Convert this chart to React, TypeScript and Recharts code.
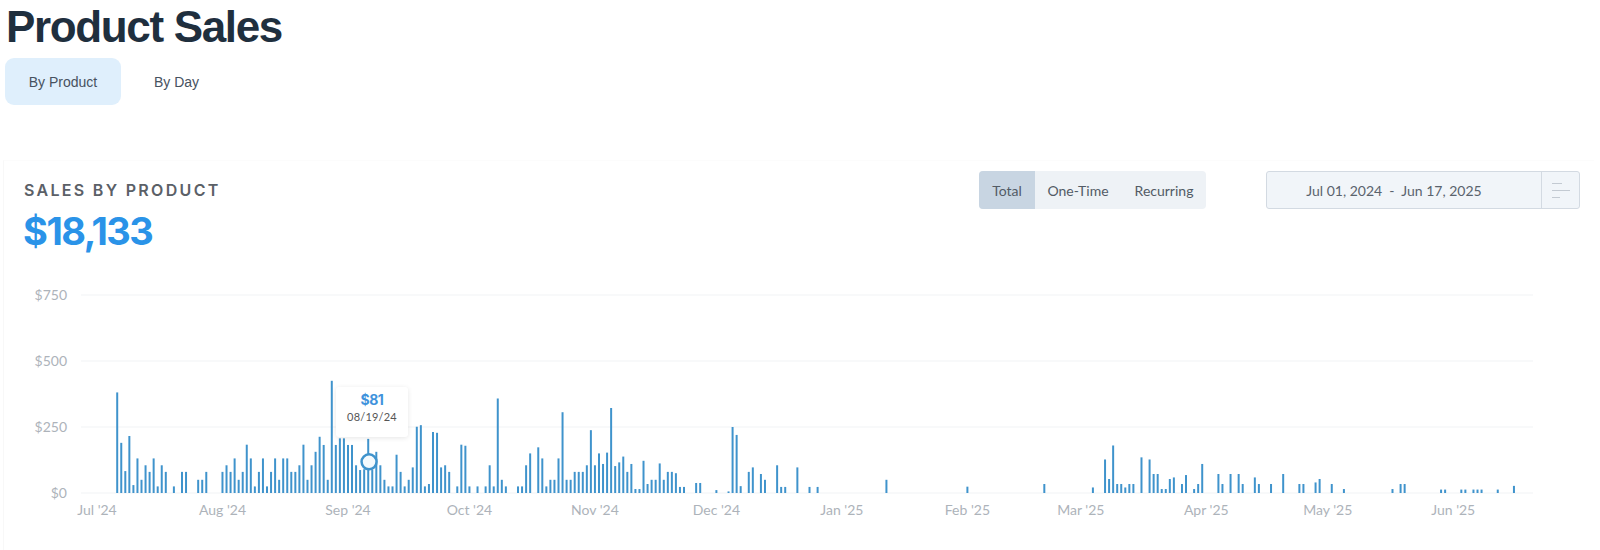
import React from "react";
import { BarChart, Bar, XAxis, YAxis, CartesianGrid, ReferenceDot } from "recharts";

const saleDays = [5,6,7,8,9,10,11,12,13,14,15,16,17,19,21,22,25,26,27,31,32,33,34,35,36,37,38,39,40,41,42,43,44,45,46,47,48,49,50,51,52,53,54,55,56,57,58,59,60,61,62,63,64,65,66,67,68,69,70,71,72,73,74,75,76,77,78,79,80,81,82,83,84,85,86,87,89,90,91,92,94,96,97,98,99,100,101,104,105,106,107,109,110,111,112,113,114,115,116,117,118,119,120,121,122,123,124,125,126,127,128,129,130,131,132,133,134,135,136,137,138,139,140,141,142,143,144,145,148,149,153,156,157,158,159,161,162,164,165,168,169,170,173,176,178,195,215,234,246,249,250,251,252,253,254,255,256,258,260,261,262,263,264,265,266,268,269,271,272,273,277,278,280,282,283,286,287,290,293,297,298,301,302,305,308,320,322,323,332,333,337,338,340,341,342,346,350];
const saleValues = [381,190,83,216,30,131,50,105,80,131,25,105,80,25,80,80,50,50,80,80,105,80,131,50,80,183,131,25,80,131,25,80,131,50,131,131,80,80,105,183,50,105,156,213,182,50,425,182,207,207,182,182,105,87,90,205,87,156,105,50,25,25,145,80,25,50,97,251,257,25,34,231,228,97,105,80,25,183,179,25,25,25,105,25,358,50,25,25,25,105,150,173,131,25,50,50,131,306,50,50,80,80,80,105,238,105,150,110,153,322,102,116,138,80,110,15,15,122,34,50,50,112,50,80,80,75,23,23,38,38,11,6,250,220,26,80,97,72,50,105,23,23,97,23,23,50,24,34,21,127,53,180,34,34,21,34,34,135,127,72,72,15,15,53,59,34,68,15,34,110,72,34,72,72,34,59,34,34,72,34,34,40,53,34,15,15,34,34,13,13,13,13,13,13,13,13,27];

const monthTicks = [0,31,62,92,123,153,184,215,243,274,304,335];
const monthLabels = ["Jul '24","Aug '24","Sep '24","Oct '24","Nov '24","Dec '24","Jan '25","Feb '25","Mar '25","Apr '25","May '25","Jun '25"];
const valueTicks = [0,250,500,750];
const segments = ["Total","One-Time","Recurring"];

const rows = saleDays.map((day, i) => ({ day, value: saleValues[i] }));
const body = '"Lato", "Open Sans", sans-serif';

const abs = (left: number, top: number, w: number, h: number, extra: React.CSSProperties = {}): React.CSSProperties => ({
  position: "absolute", left, top, width: w, height: h, ...extra,
});
const centered: React.CSSProperties = { display: "flex", alignItems: "center", justifyContent: "center", whiteSpace: "nowrap" };

export default function App() {
  return (
    <div style={{ position: "absolute", left: 0, top: 0, width: 1600, height: 550, background: "#fff", overflow: "hidden" }}>
      <div style={abs(6, 2, 400, 50, { font: 'bold 44px "Liberation Sans", Arial, sans-serif', letterSpacing: -1.35, color: "#1f2f3e", lineHeight: "50px" })}>Product Sales</div>
      <div style={abs(5, 58, 116, 47, { ...centered, background: "#dfeffc", borderRadius: 9, font: '14px "Liberation Sans", Arial, sans-serif', color: "#47525f" })}>By Product</div>
      <div style={abs(130, 58, 93, 47, { ...centered, font: '14px "Liberation Sans", Arial, sans-serif', color: "#47525f" })}>By Day</div>
      <div style={abs(3, 160, 1590, 390, { borderLeft: "1px solid #f8f8f8", borderTop: "1px solid #fcfcfc" })} />

      <div style={abs(24, 179, 300, 22, { fontFamily: '"Inter", sans-serif', fontWeight: 600, fontSize: 16, letterSpacing: 2.3, color: "#5b6067", lineHeight: "22px" })}>SALES BY PRODUCT</div>
      <div style={abs(23, 206, 300, 50, { fontFamily: '"Inter", sans-serif', fontWeight: 700, fontSize: 38, letterSpacing: -1.5, color: "#2a93e8", lineHeight: "50px" })}>$18,133</div>

      <div style={abs(979, 171, 227, 38, { background: "#eef2f6", borderRadius: 4 })} />
      <div style={abs(979, 171, 56, 38, { background: "#c8d5e2", borderRadius: "4px 0 0 4px" })} />
      {segments.map((s, i) => (
        <div key={s} style={abs([979, 1040, 1127][i], 171, [56, 76, 74][i], 38, { ...centered, fontFamily: body, fontSize: 14, color: "#525b65" })}>{s}</div>
      ))}

      <div style={abs(1266, 171, 314, 38, { boxSizing: "border-box", background: "#f1f5f9", border: "1px solid #d3dae2", borderRadius: 3 })} />
      <div style={abs(1541, 172, 1, 36, { background: "#d3dae2" })} />
      <div style={abs(1259, 171, 270, 38, { ...centered, fontFamily: body, fontSize: 14, color: "#5a636d", whiteSpace: "pre" })}>{"Jul 01, 2024  -  Jun 17, 2025"}</div>
      <div style={abs(1552, 183, 10, 1, { background: "#c3cad2" })} />
      <div style={abs(1552, 190, 18, 1, { background: "#c3cad2" })} />
      <div style={abs(1552, 197, 8, 1, { background: "#c3cad2" })} />

      <div style={abs(0, 0, 1600, 550)}>
        <BarChart width={1600} height={550} data={rows} margin={{ top: 295, right: 67, bottom: 0, left: 0 }}>
          <CartesianGrid horizontal vertical={false} stroke="#f1f3f5" />
          <XAxis
            dataKey="day"
            type="number"
            domain={[-3.95, 354.7]}
            ticks={monthTicks}
            interval={0}
            height={57}
            axisLine={false}
            tickLine={false}
            tickSize={0}
            tickMargin={12}
            tick={{ fill: "#adb3ba", fontSize: 14, fontFamily: body }}
            tickFormatter={(d: number) => monthLabels[monthTicks.indexOf(d)]}
          />
          <YAxis
            type="number"
            domain={[0, 750]}
            ticks={valueTicks}
            width={81}
            axisLine={false}
            tickLine={false}
            tickSize={0}
            tickMargin={14}
            tick={{ fill: "#adb3ba", fontSize: 14, fontFamily: body }}
            tickFormatter={(v: number) => `$${v}`}
          />
          <Bar dataKey="value" fill="#3f93cc" barSize={2} isAnimationActive={false} />
          <ReferenceDot x={67.2} y={118} r={7.5} fill="#f4fafd" stroke="#3f93cc" strokeWidth={2.5} />
        </BarChart>
      </div>

      <div style={abs(336, 387, 72, 50, { background: "#fff", borderRadius: 3, boxShadow: "0 1px 5px rgba(0,0,0,0.10)" })}>
        <div style={{ textAlign: "center", fontFamily: '"Inter", sans-serif', fontWeight: 700, fontSize: 14, color: "#3f93dc", marginTop: 4, lineHeight: "18px", letterSpacing: -0.5 }}>$81</div>
        <div style={{ textAlign: "center", fontFamily: body, fontSize: 11, color: "#555", marginTop: 1, lineHeight: "14px", letterSpacing: 0.2 }}>08/19/24</div>
      </div>
    </div>
  );
}
